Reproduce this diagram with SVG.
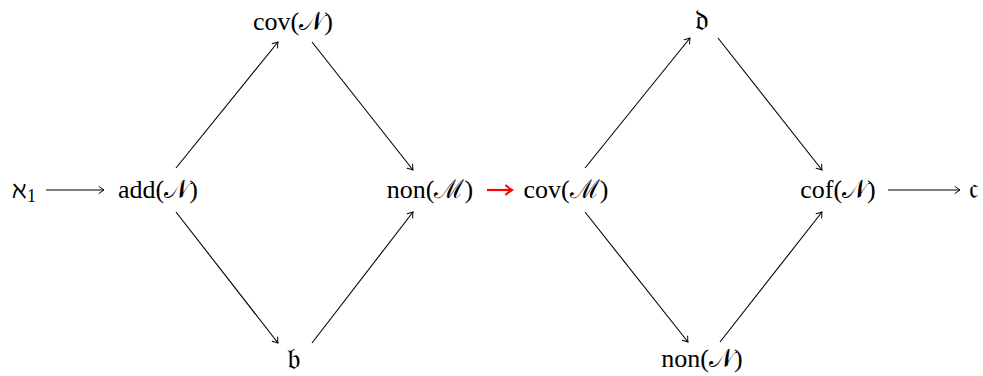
<svg xmlns="http://www.w3.org/2000/svg" width="983" height="376" viewBox="0 0 983 376">
<defs>
<style>
.t{font-family:"Liberation Serif","DejaVu Serif",serif;font-size:26px;fill:#000;text-anchor:middle}
.f{font-size:30px}
.e{stroke:#000;stroke-width:1.1;fill:none;marker-end:url(#ah)}
.r{stroke:#f00;stroke-width:2.2;fill:none;marker-end:url(#ahr)}
</style>
<marker id="ah" viewBox="-6 -5 8 10" markerWidth="8" markerHeight="10" refX="0" refY="0" orient="auto" markerUnits="userSpaceOnUse">
<path d="M-5,-3.5 Q-1.5,-0.8 0,0 Q-1.5,0.8 -5,3.5" stroke="#000" stroke-width="1" fill="none" stroke-linecap="round"/>
</marker>
<marker id="ahr" viewBox="-8 -6 10 12" markerWidth="10" markerHeight="12" refX="0" refY="0" orient="auto" markerUnits="userSpaceOnUse">
<path d="M-6,-4.5 Q-2,-1 0,0 Q-2,1 -6,4.5" stroke="#f00" stroke-width="2" fill="none" stroke-linecap="round"/>
</marker>
</defs>
<g id="connectors">
<line class="e" x1="46" y1="190" x2="104" y2="190"/>
<line class="e" x1="176" y1="168" x2="278" y2="42"/>
<line class="e" x1="176" y1="212" x2="278" y2="343"/>
<line class="e" x1="312" y1="42" x2="413" y2="170"/>
<line class="e" x1="312" y1="343" x2="413" y2="212"/>
<line class="r" x1="487" y1="190" x2="512" y2="190"/>
<line class="e" x1="585" y1="168" x2="690" y2="38"/>
<line class="e" x1="585" y1="212" x2="688" y2="342"/>
<line class="e" x1="718" y1="38" x2="822" y2="170"/>
<line class="e" x1="720" y1="342" x2="822" y2="212"/>
<line class="e" x1="888" y1="190" x2="960" y2="190"/>
</g>
<g id="aleph1"><text class="t" x="24" y="198"><tspan font-family="DejaVu Serif" font-size="24">ℵ</tspan><tspan font-size="18" dy="4">1</tspan></text></g>
<g id="addN"><text class="t" x="158" y="198">add(𝒩)</text></g>
<g id="covN"><text class="t" x="293" y="30">cov(𝒩)</text></g>
<g id="b"><text class="t f" x="294" y="369">𝔟</text></g>
<g id="nonM"><text class="t" x="430" y="198">non(ℳ)</text></g>
<g id="covM"><text class="t" x="566" y="198">cov(ℳ)</text></g>
<g id="d"><text class="t f" x="702" y="30">𝔡</text></g>
<g id="nonN"><text class="t" x="702" y="367">non(𝒩)</text></g>
<g id="cofN"><text class="t" x="838" y="198">cof(𝒩)</text></g>
<g id="c"><text class="t f" x="973" y="198">𝔠</text></g>
</svg>
